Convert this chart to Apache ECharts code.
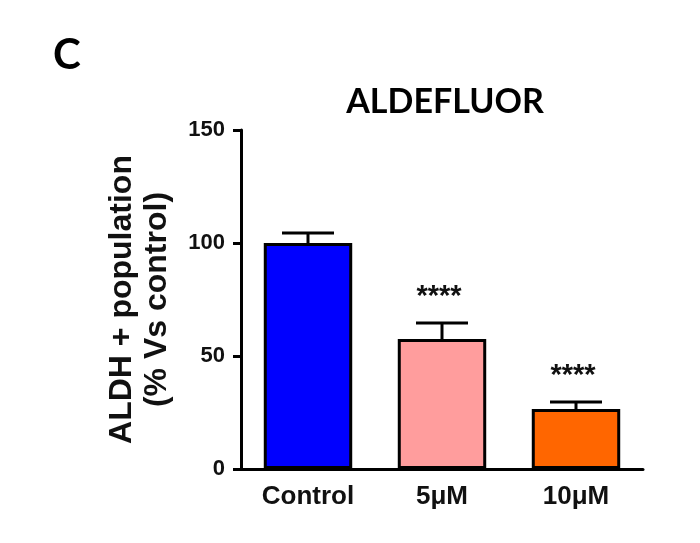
<!DOCTYPE html>
<html>
<head>
<meta charset="utf-8">
<script src="https://cdn.jsdelivr.net/npm/echarts@6/dist/echarts.min.js"></script>
<style>
html,body{margin:0;padding:0;background:#fff;}
#chart{width:700px;height:543px;}
</style>
</head>
<body>
<div id="chart"></div>
<script>
const categories = ['Control', '5\u03bcM', '10\u03bcM'];
const means = [100, 57.5, 26.5];
const errors = [4.4, 7.1, 3.1];
const significance = ['', '****', '****'];
const barColors = ['#0000ff', '#ff9d9d', '#ff6600'];
const yTicks = [0, 50, 100, 150];

const chart = echarts.init(document.getElementById('chart'));
const FONT = '"Liberation Sans", Arial, sans-serif';

const errData = categories.map((c, i) => [i, means[i], means[i] + errors[i]]);

chart.setOption({
  animation: false,
  graphic: [
    { type: 'text', x: 53, y: 55, style: { text: 'C', font: 'bold 42px Lato, sans-serif', fill: '#000', textVerticalAlign: 'middle' } },
    { type: 'text', x: 445, y: 102, style: { text: 'ALDEFLUOR', font: 'bold 34px Lato, sans-serif', fill: '#000', textAlign: 'center', textVerticalAlign: 'middle' } }
  ],
  grid: { left: 241, right: 57, top: 130, bottom: 74 },
  xAxis: {
    type: 'category',
    data: categories,
    axisLine: { lineStyle: { color: '#000', width: 3 } },
    axisTick: { alignWithLabel: true, length: 8, lineStyle: { color: '#000', width: 3 } },
    axisLabel: { color: '#111', fontFamily: FONT, fontSize: 26, fontWeight: 'bold', margin: 15 }
  },
  yAxis: {
    type: 'value',
    min: 0, max: 150, interval: 50,
    name: 'ALDH + population\n(% Vs control)',
    nameLocation: 'middle',
    nameGap: 66,
    nameRotate: 90,
    nameTextStyle: { color: '#111', fontFamily: FONT, fontSize: 32, fontWeight: 'bold', lineHeight: 35 },
    axisLine: { show: true, lineStyle: { color: '#000', width: 3 } },
    axisTick: { show: true, length: 8, lineStyle: { color: '#000', width: 3 } },
    axisLabel: { color: '#111', fontFamily: FONT, fontSize: 22, fontWeight: 'bold', margin: 16,
      formatter: v => yTicks.includes(v) ? String(v) : '' },
    splitLine: { show: false }
  },
  series: [
    {
      type: 'bar',
      barWidth: '66%',
      data: means.map((v, i) => ({ value: v, itemStyle: { color: barColors[i] } })),
      itemStyle: { borderColor: '#000', borderWidth: 3 },
      z: 2
    },
    {
      type: 'custom',
      data: errData,
      z: 3,
      renderItem: function (params, api) {
        const x = api.value(0);
        const top = api.coord([x, api.value(2)]);
        const base = api.coord([x, api.value(1)]);
        const half = 26;
        const children = [
          { type: 'line', shape: { x1: top[0], y1: base[1], x2: top[0], y2: top[1] }, style: { stroke: '#000', lineWidth: 3 } },
          { type: 'line', shape: { x1: top[0] - half, y1: top[1], x2: top[0] + half, y2: top[1] }, style: { stroke: '#000', lineWidth: 3 } }
        ];
        const sig = significance[params.dataIndex];
        if (sig) {
          children.push({ type: 'text', x: top[0] - 3, y: top[1] - 26,
            style: { text: sig, font: 'bold 29px ' + FONT, fill: '#111', textAlign: 'center', textVerticalAlign: 'middle' } });
        }
        return { type: 'group', children: children };
      }
    }
  ]
});
</script>
</body>
</html>
